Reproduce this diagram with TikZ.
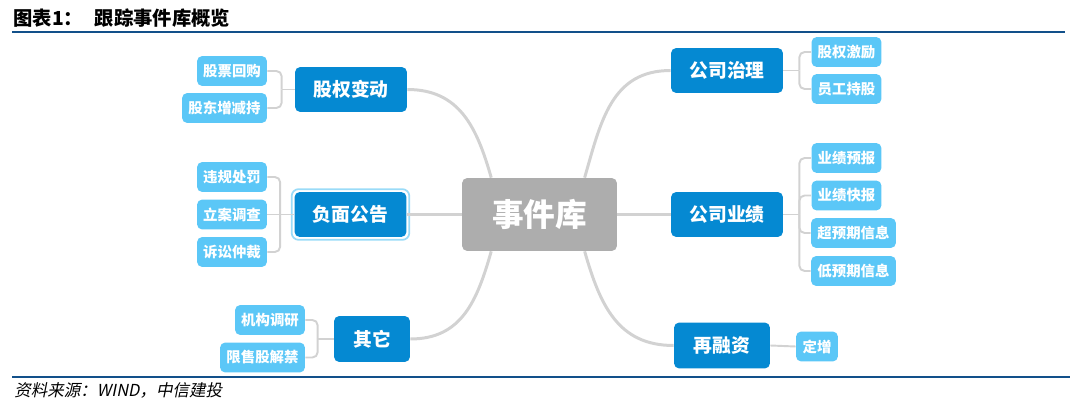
\documentclass[tikz,border=0pt]{standalone}
\usepackage{fontspec}
\setmainfont{Noto Sans CJK SC}
\newfontfamily\srcfont{Noto Sans CJK SC}[FakeSlant=0.2]
\usepackage{xcolor}
\usepackage{tikz}
\usetikzlibrary{calc}
\definecolor{deep}{HTML}{0589D2}
\definecolor{sky}{HTML}{5BC7F7}
\definecolor{slate}{HTML}{ADADAD}
\definecolor{wire}{HTML}{D2D2D2}
\definecolor{rule}{HTML}{12508A}
\definecolor{halo}{HTML}{9ADBF8}
\tikzset{
  hub/.style={fill=slate, rounded corners=3pt, minimum width=3.1cm, minimum height=1.46cm,
    inner sep=0pt, text=white, font=\fontsize{18}{20}\selectfont\bfseries},
  topic/.style={fill=deep, rounded corners=3pt, minimum width=2.24cm, minimum height=0.9cm,
    inner sep=0pt, text=white, font=\fontsize{10.7}{12}\selectfont\bfseries},
  leaf/.style={fill=sky, rounded corners=3pt, minimum width=1.4cm, minimum height=0.6cm,
    inner sep=0pt, text=white, font=\fontsize{8.2}{10}\selectfont\bfseries},
  link/.style={draw=wire, line width=1.7pt},
  twig/.style={draw=wire, line width=1.1pt, rounded corners=3pt},
  band/.style={draw=rule, line width=1.2pt}
}
\begin{document}
\begin{tikzpicture}[x=0.02cm, y=-0.02cm]
  \useasboundingbox (0,0) rectangle (1080,412);

  % heading and rules
  \node[anchor=west, inner sep=0pt, font=\fontsize{11}{13}\selectfont\bfseries] (title) at (13,18)
    {图表1：\hspace{0.6em}跟踪事件库概览};
  \coordinate (TopL) at (12,32);
  \coordinate (TopR) at (1065,32);
  \draw[band] (TopL) -- (TopR);
  \coordinate (BotL) at (12,377);
  \coordinate (BotR) at (1070,377);
  \draw[band] (BotL) -- (BotR);
  \node[anchor=west, inner sep=0pt, font=\fontsize{9.4}{11}\selectfont\srcfont] (src) at (14,390)
    {资料来源：WIND，中信建投};

  % centre
  \node[hub] (lib) at (539.5,214.5) {事件库};

  % left branches
  \node[topic] (gq) at (351,89.5) {股权变动};
  \node[topic] (fm) at (350.5,214.5) {负面公告};
  \node[topic, minimum width=1.52cm, minimum height=0.92cm] (qt) at (372,339) {其它};
  \draw[halo, line width=1pt, rounded corners=4pt]
    ($(fm.south west)+(-2.5,2.5)$) rectangle ($(fm.north east)+(2.5,-2.5)$);

  \node[leaf] (hg) at (232,71) {股票回购};
  \node[leaf, minimum width=1.7cm] (zj) at (224.5,108) {股东增减持};
  \node[leaf] (wg) at (232,177) {违规处罚};
  \node[leaf] (la) at (232,214.5) {立案调查};
  \node[leaf] (ss) at (232,252) {诉讼仲裁};
  \node[leaf] (dy) at (270,320) {机构调研};
  \node[leaf, minimum width=1.7cm] (js) at (262.5,357.5) {限售股解禁};

  % right branches
  \node[topic] (zl) at (727,70.5) {公司治理};
  \node[topic] (yj) at (727,214.5) {公司业绩};
  \node[topic, minimum width=1.92cm, minimum height=0.92cm] (rz) at (722,345.5) {再融资};

  \node[leaf] (jl) at (846.5,52) {股权激励};
  \node[leaf] (cg) at (846.5,89) {员工持股};
  \node[leaf] (yb) at (846.5,158) {业绩预报};
  \node[leaf] (kb) at (846.5,195.5) {业绩快报};
  \node[leaf, minimum width=1.7cm] (cy) at (853.5,233) {超预期信息};
  \node[leaf, minimum width=1.7cm] (dq) at (853.5,271) {低预期信息};
  \node[leaf, minimum width=0.84cm] (dz) at (817,346.5) {定增};

  % centre to topics
  \coordinate (NW) at ($(lib.north west)!0.19!(lib.north east)$);
  \coordinate (NE) at ($(lib.north west)!0.79!(lib.north east)$);
  \coordinate (SW) at ($(lib.south west)!0.19!(lib.south east)$);
  \coordinate (SE) at ($(lib.south west)!0.79!(lib.south east)$);
  \draw[link] (NW) to[out=106, in=0, looseness=1.1] (gq.east);
  \draw[link] (NE) to[out=74, in=180, looseness=1.1] (zl.west);
  \draw[link] (SW) to[out=-106, in=0, looseness=1.1] (qt.east);
  \draw[link] (SE) to[out=-74, in=180, looseness=1.1] (rz.west);
  \draw[link] (lib.west) -- (fm.east);
  \draw[link] (lib.east) -- (yj.west);

  % topics to leaves
  \coordinate (gqJ) at ($(gq.west)+(-13,0)$);
  \draw[twig] (gq.west) -- (gqJ);
  \draw[twig] (gqJ) |- (hg.east);
  \draw[twig] (gqJ) |- (zj.east);

  \coordinate (fmJ) at ($(fm.west)+(-14,0)$);
  \draw[twig] (fm.west) -- (fmJ);
  \draw[twig] (fmJ) |- (wg.east);
  \draw[twig] (fmJ) -- (la.east);
  \draw[twig] (fmJ) |- (ss.east);

  \coordinate (qtJ) at ($(qt.west)+(-16,0)$);
  \draw[twig] (qt.west) -- (qtJ);
  \draw[twig] (qtJ) |- (dy.east);
  \draw[twig] (qtJ) |- (js.east);

  \coordinate (zlJ) at ($(zl.east)+(16,0)$);
  \draw[twig] (zl.east) -- (zlJ);
  \draw[twig] (zlJ) |- (jl.west);
  \draw[twig] (zlJ) |- (cg.west);

  \coordinate (yjJ) at ($(yj.east)+(16,0)$);
  \draw[twig] (yj.east) -- (yjJ);
  \draw[twig] (yjJ) |- (yb.west);
  \draw[twig] (yjJ) |- (kb.west);
  \draw[twig] (yjJ) |- (cy.west);
  \draw[twig] (yjJ) |- (dq.west);

  \draw[twig] (rz.east) -- (dz.west);
\end{tikzpicture}
\end{document}
